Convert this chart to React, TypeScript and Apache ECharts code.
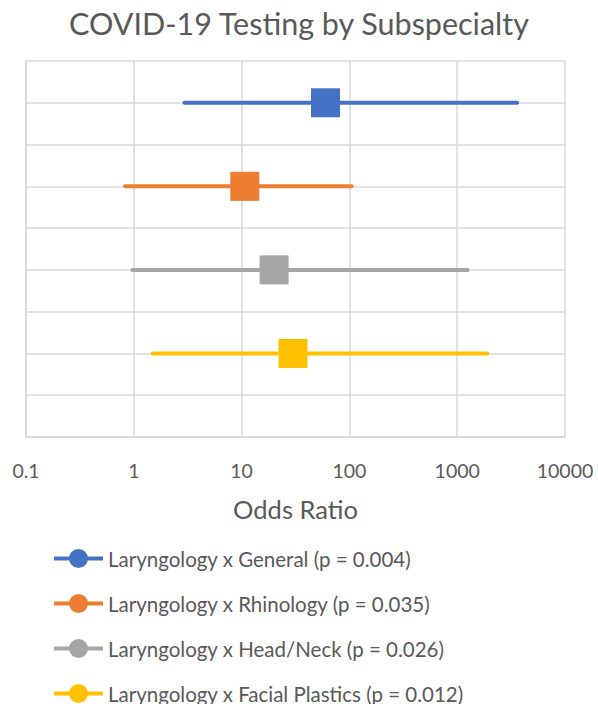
import React, { useEffect, useRef } from "react";
import * as echarts from "echarts";

const seriesNames = [
  "Laryngology x General (p = 0.004)",
  "Laryngology x Rhinology (p = 0.035)",
  "Laryngology x Head/Neck (p = 0.026)",
  "Laryngology x Facial Plastics (p = 0.012)",
];
const colors = ["#4472C4", "#ED7D31", "#A5A5A5", "#FFC000"];
const oddsRatios = [60, 10.7, 20, 30];
const lowerCI = [2.95, 0.83, 0.97, 1.5];
const upperCI = [3600, 105, 1250, 1900];
const rowPositions = [8, 6, 4, 2];
const xTicks = [0.1, 1, 10, 100, 1000, 10000];

const FONT = "Lato";
const TEXT = "#595959";
const GRID = "#d9d9d9";

const LEGEND_ICON =
  "path://M0,7.5 L15.4,7.5 L15.4,11.5 L0,11.5 Z M33.6,7.5 L49,7.5 L49,11.5 L33.6,11.5 Z M15,9.5 A9.5,9.5 0 1,1 34,9.5 A9.5,9.5 0 1,1 15,9.5 Z";

export default function App() {
  const ref = useRef<HTMLDivElement>(null);
  useEffect(() => {
    if (!ref.current) return;
    const chart = echarts.init(ref.current, null, { renderer: "svg" });
    const series = seriesNames.map((name, i) => ({
      name,
      type: "line",
      color: colors[i],
      symbol: "circle",
      symbolSize: 19,
      lineStyle: { width: 4, color: colors[i], cap: "round" },
      itemStyle: { color: colors[i] },
      data: [
        { value: [lowerCI[i], rowPositions[i]], symbol: "none" },
        { value: [oddsRatios[i], rowPositions[i]], symbol: "rect", symbolSize: 29 },
        { value: [upperCI[i], rowPositions[i]], symbol: "none" },
      ],
      z: 3,
    }));
    chart.setOption({
      animation: false,
      textStyle: { fontFamily: FONT, color: TEXT },
      title: {
        text: "COVID-19 Testing by Subspecialty",
        left: "center",
        top: 2,
        textStyle: { fontFamily: FONT, fontSize: 30.5, fontWeight: "normal", color: TEXT },
      },
      grid: { left: 26, top: 61, width: 539, height: 376, containLabel: false },
      xAxis: {
        type: "log",
        logBase: 10,
        min: xTicks[0],
        max: xTicks[xTicks.length - 1],
        splitNumber: 5,
        name: "Odds Ratio",
        nameLocation: "middle",
        nameGap: 59,
        nameTextStyle: { fontFamily: FONT, fontSize: 25.5, color: TEXT },
        axisLine: { show: true, lineStyle: { color: GRID, width: 1.5 } },
        axisTick: { show: false },
        axisLabel: {
          fontFamily: FONT,
          fontSize: 19.5,
          color: TEXT,
          margin: 23,
          formatter: (v: number) => String(parseFloat(v.toPrecision(6))),
        },
        splitLine: { show: true, lineStyle: { color: GRID, width: 1.5 } },
      },
      yAxis: {
        type: "value",
        min: 0,
        max: 9,
        interval: 1,
        axisLabel: { show: false },
        axisTick: { show: false },
        axisLine: { show: true, lineStyle: { color: GRID, width: 1.5 } },
        splitLine: { show: true, lineStyle: { color: GRID, width: 1.5 } },
      },
      legend: {
        orient: "vertical",
        left: 54,
        top: 548,
        height: 220,
        padding: 0,
        itemWidth: 49,
        itemHeight: 19,
        itemGap: 24,
        icon: LEGEND_ICON,
        data: seriesNames,
        textStyle: { fontFamily: FONT, fontSize: 20.5, lineHeight: 20, color: TEXT },
      },
      series,
    });
    return () => chart.dispose();
  }, []);
  return (
    <div
      ref={ref}
      style={{ position: "absolute", left: 0, top: 0, width: 598, height: 704 }}
    />
  );
}
